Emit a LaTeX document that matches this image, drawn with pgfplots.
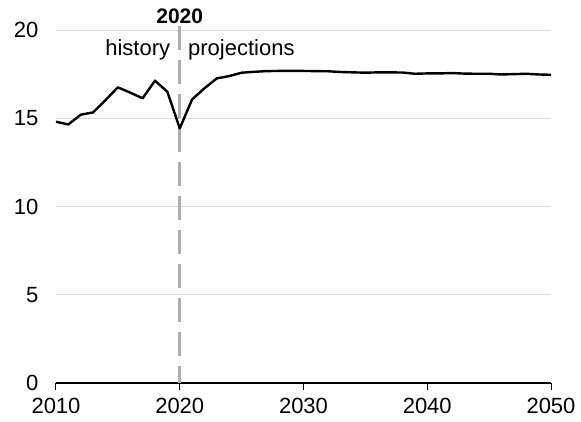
\documentclass[border=0pt]{standalone}
\usepackage{pgfplots}
\pgfplotsset{compat=1.18}
\usepackage{fontspec}
\setmainfont{Liberation Sans}

\definecolor{gridgray}{HTML}{D9D9D9}
\definecolor{dashgray}{HTML}{ADADAD}

\pgfplotstableread{
year value
2010 14.80
2011 14.65
2012 15.20
2013 15.33
2014 16.03
2015 16.75
2016 16.45
2017 16.13
2018 17.13
2019 16.50
2020 14.43
2021 16.07
2022 16.70
2023 17.26
2024 17.39
2025 17.58
2026 17.63
2027 17.67
2028 17.68
2029 17.68
2030 17.68
2031 17.67
2032 17.66
2033 17.62
2034 17.60
2035 17.58
2036 17.60
2037 17.60
2038 17.59
2039 17.52
2040 17.54
2041 17.54
2042 17.56
2043 17.53
2044 17.52
2045 17.52
2046 17.48
2047 17.50
2048 17.52
2049 17.48
2050 17.46
}\datatable

\begin{document}
\fontsize{22}{26}\selectfont
\begin{tikzpicture}
\begin{axis}[
  scale only axis,
  width=495pt, height=353pt,
  xmin=2010, xmax=2050, ymin=0, ymax=20,
  xtick={2010,2020,...,2050},
  ytick={0,5,10,15,20},
  /pgf/number format/1000 sep={},
  /pgf/number format/assume math mode=true,
  axis y line*=left, y axis line style={draw=none},
  axis x line*=bottom, x axis line style={black, line width=1.2pt},
  ymajorgrids, grid style={gridgray, line width=0.9pt},
  ytick style={draw=none},
  xtick style={black, line width=1pt},
  xtick align=outside, major tick length=7pt,
  yticklabel style={xshift=-10pt},
  xticklabel style={yshift=-1pt},
  tick label style={font=\fontsize{22}{26}\selectfont},
  clip=false,
]
\addplot[dashgray, line width=2.6pt, dash pattern=on 24pt off 10pt] coordinates {(2020,20.2) (2020,0)};
\addplot[black, line width=2.4pt, line join=round] table[x=year, y=value] {\datatable};
\node[anchor=east, fill=white, inner sep=2pt] at (axis cs:2019.4,18.9) {history};
\node[anchor=west, fill=white, inner sep=2pt] at (axis cs:2020.5,18.9) {projections};
\node[anchor=south, font=\bfseries\fontsize{21}{24}\selectfont, inner sep=1pt] at (axis cs:2020,20.3) {2020};
\coordinate (sw) at (rel axis cs:0,0);
\end{axis}
\pgfresetboundingbox
\path[use as bounding box] ([shift={(-56pt,-39pt)}]sw) rectangle ([shift={(525pt,383pt)}]sw);
\end{tikzpicture}
\end{document}
